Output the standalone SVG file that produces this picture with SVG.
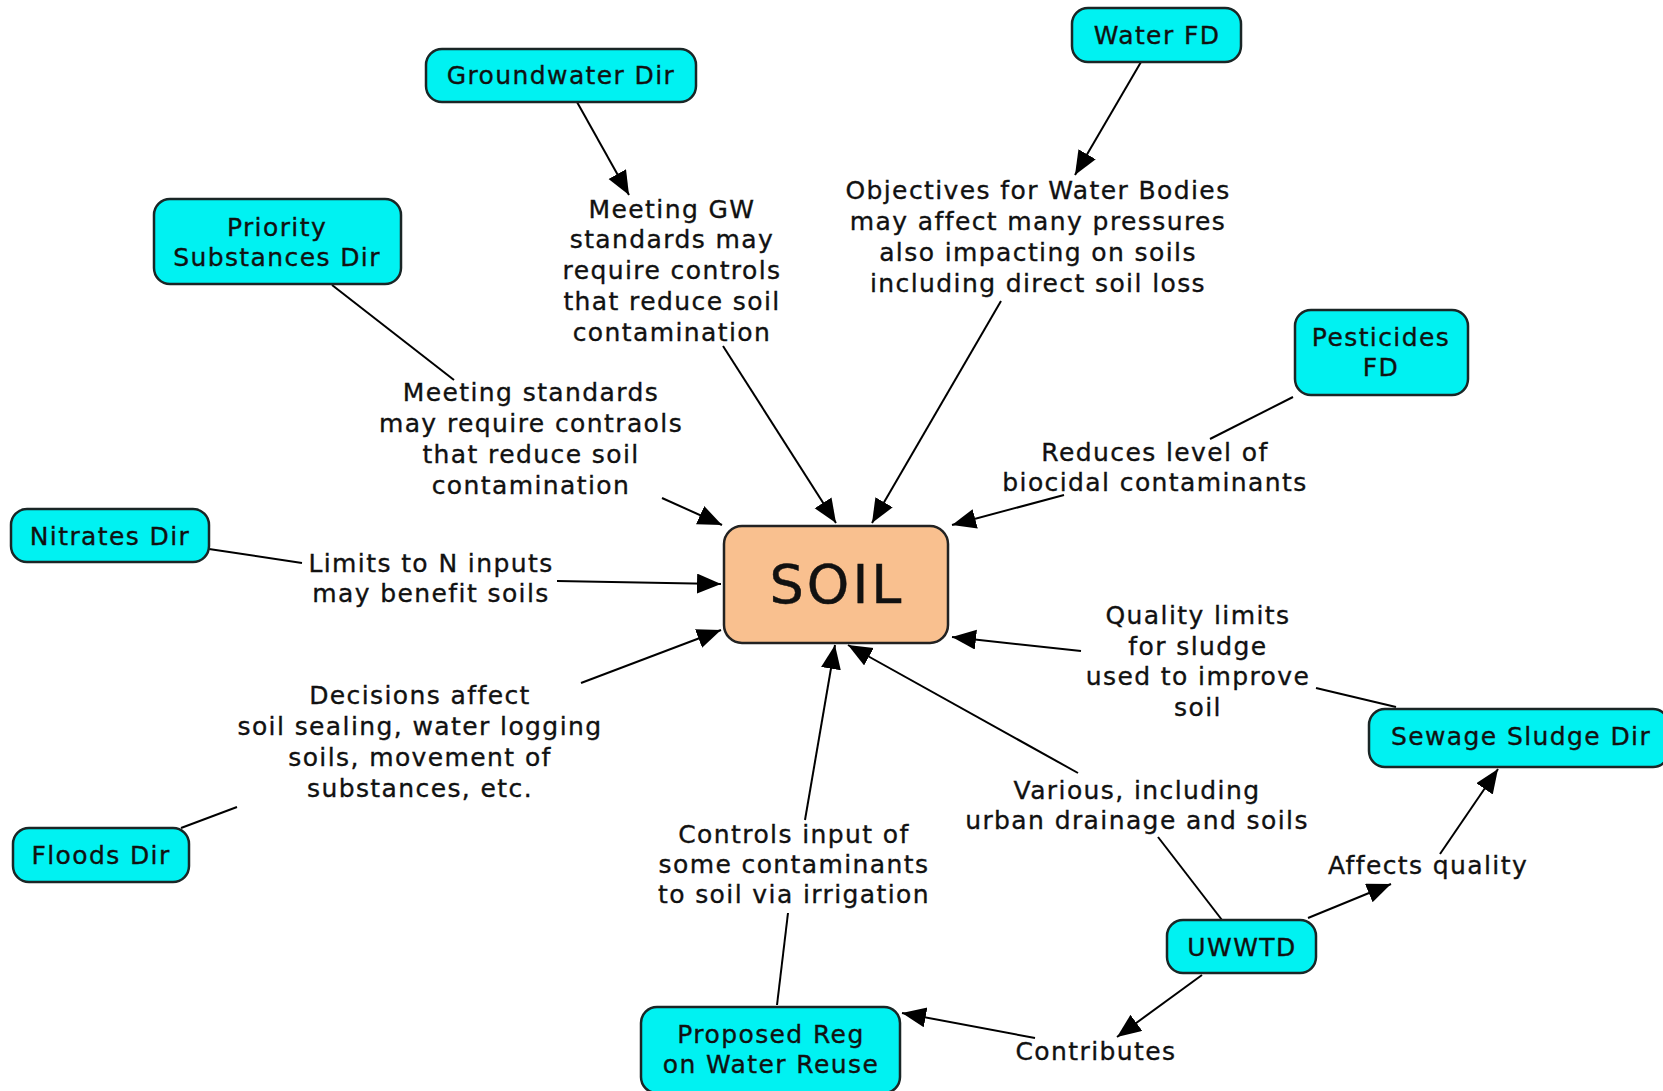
<svg xmlns="http://www.w3.org/2000/svg" width="1663" height="1091" viewBox="0 0 1663 1091">
<defs>
<marker id="arr" markerUnits="userSpaceOnUse" markerWidth="26" markerHeight="22" refX="24" refY="10" orient="auto">
<path d="M0,0 L24,10 L0,20 z" fill="#000"/>
</marker>
<style>
.n rect{fill:#00f2f2;stroke:#1a2626;stroke-width:2.5}
.soil rect{fill:#f9c08f;stroke:#222;stroke-width:2.5}
text{font-family:"DejaVu Sans","Verdana",sans-serif;font-size:25px;fill:#111;stroke:#111;stroke-width:0.35;text-anchor:middle;letter-spacing:1.4px}
.big{font-size:54px;letter-spacing:3px;stroke-width:0.5}
.c line{stroke:#000;stroke-width:2}
.c .a{marker-end:url(#arr)}
</style>
</defs>
<rect width="1663" height="1091" fill="#fff"/>

<g id="connectors" class="c">
<line class="a" x1="577" y1="102" x2="629" y2="195"/>
<line class="a" x1="723" y1="346" x2="836" y2="523"/>
<line class="a" x1="1141" y1="62" x2="1075" y2="175"/>
<line class="a" x1="1001" y1="301" x2="872" y2="523"/>
<line x1="332" y1="285" x2="454" y2="380"/>
<line class="a" x1="662" y1="498" x2="722" y2="525"/>
<line x1="1293" y1="397" x2="1210" y2="439"/>
<line class="a" x1="1064" y1="495" x2="952" y2="525"/>
<line x1="209" y1="549" x2="302" y2="563"/>
<line class="a" x1="557" y1="581" x2="721" y2="584"/>
<line x1="181" y1="828" x2="237" y2="807"/>
<line class="a" x1="581" y1="683" x2="721" y2="630"/>
<line x1="1396" y1="707" x2="1316" y2="688"/>
<line class="a" x1="1081" y1="651" x2="952" y2="637"/>
<line x1="1222" y1="920" x2="1158" y2="837"/>
<line class="a" x1="1078" y1="773" x2="848" y2="645"/>
<line x1="777" y1="1005" x2="788" y2="913"/>
<line class="a" x1="805" y1="820" x2="835" y2="645"/>
<line class="a" x1="1308" y1="918" x2="1391" y2="884"/>
<line class="a" x1="1440" y1="854" x2="1498" y2="769"/>
<line class="a" x1="1202" y1="975" x2="1117" y2="1037"/>
<line class="a" x1="1035" y1="1038" x2="902" y2="1013"/>
</g>

<g id="labels">
<text x="672" y="218">Meeting GW</text>
<text x="672" y="248">standards may</text>
<text x="672" y="279">require controls</text>
<text x="672" y="310">that reduce soil</text>
<text x="672" y="341">contamination</text>

<text x="1038" y="199">Objectives for Water Bodies</text>
<text x="1038" y="230">may affect many pressures</text>
<text x="1038" y="261">also impacting on soils</text>
<text x="1038" y="292">including direct soil loss</text>

<text x="531" y="401">Meeting standards</text>
<text x="531" y="432">may require contraols</text>
<text x="531" y="463">that reduce soil</text>
<text x="531" y="494">contamination</text>

<text x="1155" y="461">Reduces level of</text>
<text x="1155" y="491">biocidal contaminants</text>

<text x="431" y="572">Limits to N inputs</text>
<text x="431" y="602">may benefit soils</text>

<text x="1198" y="624">Quality limits</text>
<text x="1198" y="655">for sludge</text>
<text x="1198" y="685">used to improve</text>
<text x="1198" y="716">soil</text>

<text x="420" y="704">Decisions affect</text>
<text x="420" y="735">soil sealing, water logging</text>
<text x="420" y="766">soils, movement of</text>
<text x="420" y="797">substances, etc.</text>

<text x="1137" y="799">Various, including</text>
<text x="1137" y="829">urban drainage and soils</text>

<text x="794" y="843">Controls input of</text>
<text x="794" y="873">some contaminants</text>
<text x="794" y="903">to soil via irrigation</text>

<text x="1428" y="874">Affects quality</text>
<text x="1096" y="1060">Contributes</text>
</g>

<g id="groundwater" class="n"><rect x="426" y="49" width="270" height="53" rx="16"/><text x="561" y="84">Groundwater Dir</text></g>
<g id="waterfd" class="n"><rect x="1072" y="8" width="169" height="54" rx="16"/><text x="1157" y="44">Water FD</text></g>
<g id="priority" class="n"><rect x="154" y="199" width="247" height="85" rx="16"/><text x="277" y="236">Priority</text><text x="277" y="266">Substances Dir</text></g>
<g id="pesticides" class="n"><rect x="1295" y="310" width="173" height="85" rx="16"/><text x="1381" y="346">Pesticides</text><text x="1381" y="376">FD</text></g>
<g id="nitrates" class="n"><rect x="11" y="509" width="198" height="53" rx="16"/><text x="110" y="545">Nitrates Dir</text></g>
<g id="floods" class="n"><rect x="13" y="828" width="176" height="54" rx="16"/><text x="101" y="864">Floods Dir</text></g>
<g id="soil" class="soil"><rect x="724" y="526" width="224" height="117" rx="18"/><text class="big" x="837" y="603">SOIL</text></g>
<g id="sewage" class="n"><rect x="1369" y="709" width="300" height="58" rx="16"/><text x="1521" y="745">Sewage Sludge Dir</text></g>
<g id="uwwtd" class="n"><rect x="1167" y="920" width="149" height="53" rx="16"/><text x="1242" y="956">UWWTD</text></g>
<g id="reuse" class="n"><rect x="641" y="1007" width="259" height="86" rx="16"/><text x="771" y="1043">Proposed Reg</text><text x="771" y="1073">on Water Reuse</text></g>
</svg>
